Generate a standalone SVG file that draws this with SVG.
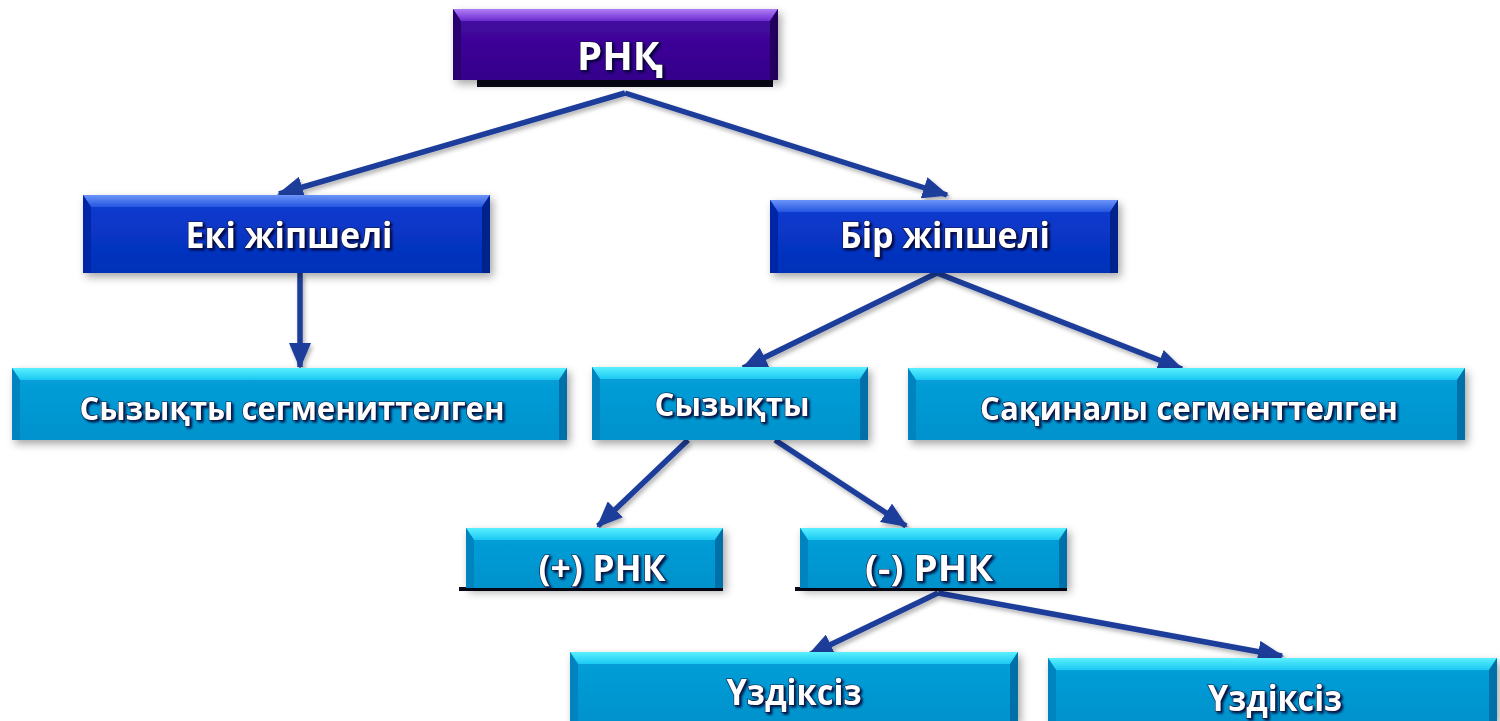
<svg xmlns="http://www.w3.org/2000/svg" width="1500" height="721" viewBox="0 0 1500 721">
<defs>
<linearGradient id="pMain" x1="0" y1="0" x2="0" y2="1"><stop offset="0" stop-color="#460aa4"/><stop offset="1" stop-color="#34008a"/></linearGradient>
<linearGradient id="pTop" x1="0" y1="0" x2="0" y2="1"><stop offset="0" stop-color="#b080f5"/><stop offset="1" stop-color="#6a2ad0"/></linearGradient>
<linearGradient id="bMain" x1="0" y1="0" x2="0" y2="1"><stop offset="0" stop-color="#0a3cd2"/><stop offset="1" stop-color="#0430b8"/></linearGradient>
<linearGradient id="bTop" x1="0" y1="0" x2="0" y2="1"><stop offset="0" stop-color="#6c94f8"/><stop offset="1" stop-color="#2456e0"/></linearGradient>
<linearGradient id="cMain" x1="0" y1="0" x2="0" y2="1"><stop offset="0" stop-color="#08a0da"/><stop offset="1" stop-color="#0092cc"/></linearGradient>
<linearGradient id="cTop" x1="0" y1="0" x2="0" y2="1"><stop offset="0" stop-color="#5af0ff"/><stop offset="1" stop-color="#1cc8f2"/></linearGradient>
<filter id="boxShadow" x="-5%" y="-10%" width="115%" height="140%"><feDropShadow dx="3" dy="4" stdDeviation="4" flood-color="#000" flood-opacity="0.35"/></filter>
<filter id="txtShadow" x="-10%" y="-20%" width="130%" height="160%"><feDropShadow dx="2" dy="2" stdDeviation="1" flood-color="#000030" flood-opacity="0.85"/></filter>
<filter id="lineShadow" x="-10%" y="-10%" width="130%" height="130%"><feDropShadow dx="2" dy="3" stdDeviation="2" flood-color="#000" flood-opacity="0.3"/></filter>
<marker id="ah" markerUnits="userSpaceOnUse" markerWidth="26" markerHeight="22" refX="24" refY="11" orient="auto"><path d="M0,0 L26,11 L0,22 z" fill="#1d3c9a"/></marker>
</defs>
<style>
.pm{fill:url(#pMain)} .pt{fill:url(#pTop)} .ps{fill:#2c0070} .pr{fill:#24005c}
.bm{fill:url(#bMain)} .bt{fill:url(#bTop)} .bs{fill:#0528a8} .br{fill:#03208c}
.cm{fill:url(#cMain)} .ct{fill:url(#cTop)} .cs{fill:#0084c0} .cr{fill:#0070a8}
.box{filter:url(#boxShadow)}
.lbl{font-family:"Open Sans","Noto Sans","Liberation Sans",sans-serif;font-weight:bold;fill:#ffffff;stroke:#14143c;stroke-width:1.2px;paint-order:stroke;text-anchor:middle;filter:url(#txtShadow)}
.bar{fill:#080818}
.conn{stroke:#1d3c9a;stroke-width:5.5;fill:none;marker-end:url(#ah)}
</style>

<g id="connectors" filter="url(#lineShadow)">
<path class="conn" d="M625,93 L279,194"/>
<path class="conn" d="M625,93 L947,195"/>
<path class="conn" d="M300,273 L300,367"/>
<path class="conn" d="M937,273 L743,368"/>
<path class="conn" d="M937,273 L1182,369"/>
<path class="conn" d="M688,440 L598,526"/>
<path class="conn" d="M775,440 L906,526"/>
<path class="conn" d="M938,593 L809,655"/>
<path class="conn" d="M938,593 L1282,656"/>
</g>

<g id="n-rnk">
<rect class="bar" x="477" y="79" width="296" height="8"/>
<g class="box">
<rect class="pm" x="453" y="9" width="325" height="71"/>
<polygon class="pt" points="453,9 778,9 770,21 461,21"/>
<polygon class="ps" points="453,9 461,21 461,80 453,80"/>
<polygon class="pr" points="778,9 778,80 770,80 770,21"/>
</g>
<text class="lbl" x="620" y="70" font-size="40" textLength="86" lengthAdjust="spacingAndGlyphs">РНҚ</text>
</g>

<g id="n-eki">
<g class="box">
<rect class="bm" x="83" y="195" width="407" height="78"/>
<polygon class="bt" points="83,195 490,195 482,207 91,207"/>
<polygon class="bs" points="83,195 91,207 91,273 83,273"/>
<polygon class="br" points="490,195 490,273 482,273 482,207"/>
</g>
<text class="lbl" x="289" y="248" font-size="35" textLength="207" lengthAdjust="spacingAndGlyphs">Екі жіпшелі</text>
</g>

<g id="n-bir">
<g class="box">
<rect class="bm" x="770" y="200" width="348" height="73"/>
<polygon class="bt" points="770,200 1118,200 1110,212 778,212"/>
<polygon class="bs" points="770,200 778,212 778,273 770,273"/>
<polygon class="br" points="1118,200 1118,273 1110,273 1110,212"/>
</g>
<text class="lbl" x="945" y="248" font-size="35" textLength="210" lengthAdjust="spacingAndGlyphs">Бір жіпшелі</text>
</g>

<g id="n-linseg">
<g class="box">
<rect class="cm" x="12" y="368" width="555" height="72"/>
<polygon class="ct" points="12,368 567,368 559,380 20,380"/>
<polygon class="cs" points="12,368 20,380 20,440 12,440"/>
<polygon class="cr" points="567,368 567,440 559,440 559,380"/>
</g>
<text class="lbl" x="292" y="420" font-size="33" textLength="425" lengthAdjust="spacingAndGlyphs">Сызықты сегмениттелген</text>
</g>

<g id="n-lin">
<g class="box">
<rect class="cm" x="592" y="367" width="276" height="73"/>
<polygon class="ct" points="592,367 868,367 860,379 600,379"/>
<polygon class="cs" points="592,367 600,379 600,440 592,440"/>
<polygon class="cr" points="868,367 868,440 860,440 860,379"/>
</g>
<text class="lbl" x="732" y="416" font-size="33" textLength="155" lengthAdjust="spacingAndGlyphs">Сызықты</text>
</g>

<g id="n-ring">
<g class="box">
<rect class="cm" x="908" y="368" width="557" height="72"/>
<polygon class="ct" points="908,368 1465,368 1457,380 916,380"/>
<polygon class="cs" points="908,368 916,380 916,440 908,440"/>
<polygon class="cr" points="1465,368 1465,440 1457,440 1457,380"/>
</g>
<text class="lbl" x="1189" y="420" font-size="33" textLength="418" lengthAdjust="spacingAndGlyphs">Сақиналы сегменттелген</text>
</g>

<g id="n-plus">
<rect class="bar" x="459" y="587" width="264" height="4"/>
<g class="box">
<rect class="cm" x="466" y="528" width="257" height="60"/>
<polygon class="ct" points="466,528 723,528 715,540 474,540"/>
<polygon class="cs" points="466,528 474,540 474,588 466,588"/>
<polygon class="cr" points="723,528 723,588 715,588 715,540"/>
</g>
<text class="lbl" x="602" y="581" font-size="36" textLength="127" lengthAdjust="spacingAndGlyphs">(+) РНК</text>
</g>

<g id="n-minus">
<rect class="bar" x="795" y="587" width="272" height="4"/>
<g class="box">
<rect class="cm" x="800" y="528" width="267" height="60"/>
<polygon class="ct" points="800,528 1067,528 1059,540 808,540"/>
<polygon class="cs" points="800,528 808,540 808,588 800,588"/>
<polygon class="cr" points="1067,528 1067,588 1059,588 1059,540"/>
</g>
<text class="lbl" x="929" y="581" font-size="36" textLength="128" lengthAdjust="spacingAndGlyphs">(-) РНК</text>
</g>

<g id="n-u1">
<g class="box">
<rect class="cm" x="570" y="652" width="448" height="69"/>
<polygon class="ct" points="570,652 1018,652 1010,664 578,664"/>
<polygon class="cs" points="570,652 578,664 578,721 570,721"/>
<polygon class="cr" points="1018,652 1018,721 1010,721 1010,664"/>
</g>
<text class="lbl" x="794" y="705" font-size="35" textLength="135" lengthAdjust="spacingAndGlyphs">Үздіксіз</text>
</g>

<g id="n-u2">
<g class="box">
<rect class="cm" x="1048" y="658" width="449" height="63"/>
<polygon class="ct" points="1048,658 1497,658 1489,670 1056,670"/>
<polygon class="cs" points="1048,658 1056,670 1056,721 1048,721"/>
<polygon class="cr" points="1497,658 1497,721 1489,721 1489,670"/>
</g>
<text class="lbl" x="1275" y="711" font-size="35" textLength="134" lengthAdjust="spacingAndGlyphs">Үздіксіз</text>
</g>
</svg>
